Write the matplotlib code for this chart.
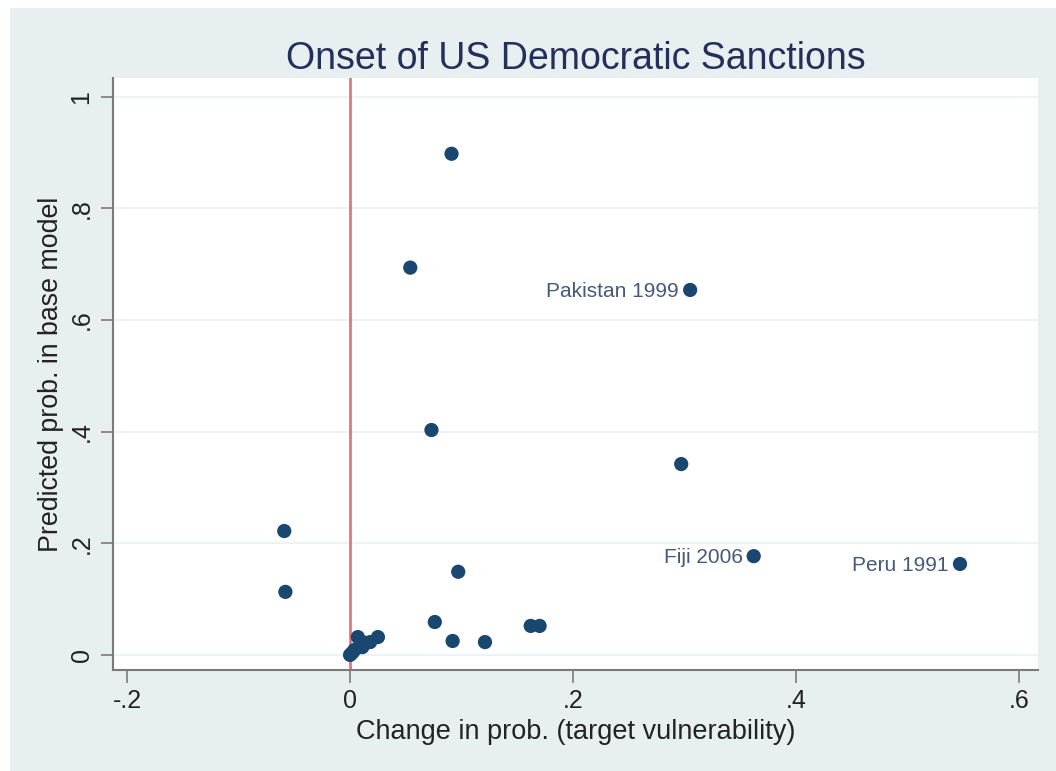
import matplotlib
matplotlib.use("Agg")
import matplotlib.pyplot as plt
from matplotlib.patches import Rectangle

# change in prob. (target vulnerability) vs predicted prob. in base model
change_prob = [0.091, 0.054, 0.305, 0.073, 0.297, -0.059, 0.362, 0.547,
               0.097, -0.058, 0.076, 0.092, 0.121, 0.162, 0.170,
               0.000, 0.002, 0.004, 0.007, 0.011, 0.013, 0.018, 0.025]
base_prob = [0.898, 0.694, 0.654, 0.403, 0.342, 0.222, 0.177, 0.163,
             0.149, 0.113, 0.059, 0.025, 0.023, 0.052, 0.052,
             0.000, 0.004, 0.009, 0.032, 0.014, 0.022, 0.023, 0.032]
case_labels = ["", "", "Pakistan 1999", "", "", "", "Fiji 2006", "Peru 1991",
               "", "", "", "", "", "", "", "", "", "", "", "", "", "", ""]

x_ticks = [-0.2, 0, 0.2, 0.4, 0.6]
x_tick_labels = ["-.2", "0", ".2", ".4", ".6"]
y_ticks = [0, 0.2, 0.4, 0.6, 0.8, 1]
y_tick_labels = ["0", ".2", ".4", ".6", ".8", "1"]

FONT = ["Liberation Sans", "DejaVu Sans"]
NAVY = "#1a476f"
BG = "#e8eff1"

fig = plt.figure(figsize=(10.56, 7.71), dpi=100)
fig.patch.set_facecolor("white")
fig.patches.append(Rectangle((10 / 1056, 0.0), 1.0, 1 - 8 / 771,
                             transform=fig.transFigure, facecolor=BG,
                             edgecolor="none", zorder=-10))

ax = fig.add_axes([0.107, 0.131, 0.876, 0.768])
ax.set_facecolor("white")
ax.set_xlim(-0.2126, 0.617)
ax.set_ylim(-0.027, 1.034)

for yt in y_ticks:
    ax.axhline(yt, color="#eaf1f3", lw=1.2, zorder=0)
ax.axvline(0, color="#e27580", lw=2, zorder=1)

ax.scatter(change_prob, base_prob, s=105, color=NAVY, edgecolor="none", zorder=3)
for x, y, lab in zip(change_prob, base_prob, case_labels):
    if lab:
        ax.annotate(lab, (x, y), xytext=(-8, -1), textcoords="offset points",
                    ha="right", va="center", fontsize=15,
                    family=FONT, color="#46597a")

for side in ("top", "right"):
    ax.spines[side].set_visible(False)
for side in ("left", "bottom"):
    ax.spines[side].set_color("#7a7a7a")
    ax.spines[side].set_linewidth(1.5)

ax.set_xticks(x_ticks)
ax.set_xticklabels(x_tick_labels, family=FONT, fontsize=18, color="#222222")
ax.set_yticks(y_ticks)
ax.set_yticklabels(y_tick_labels, family=FONT, fontsize=18, color="#222222",
                   rotation=90, va="center")
ax.tick_params(axis="both", direction="out", length=9, width=1.2,
               color="#7a7a7a", pad=5)

ax.set_xlabel("Change in prob. (target vulnerability)", family=FONT,
              fontsize=19.5, color="#222222", labelpad=4)
ax.set_ylabel("Predicted prob. in base model", family=FONT,
              fontsize=19.3, color="#222222", labelpad=4)
fig.text(0.545, 0.923, "Onset of US Democratic Sanctions", family=FONT,
         fontsize=27, color="#23305a", ha="center", va="center")

fig.savefig("out.png", dpi=100, facecolor=fig.get_facecolor())
